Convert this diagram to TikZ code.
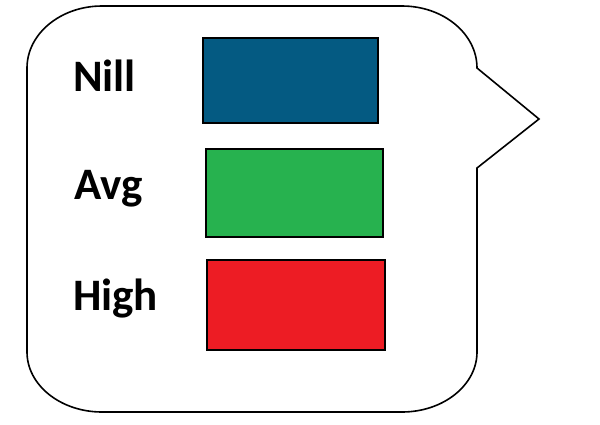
\documentclass[tikz,border=0pt]{standalone}
\usepackage{fontspec}
\setmainfont{Carlito}
\definecolor{nillblue}{RGB}{4,90,130}
\definecolor{avggreen}{RGB}{39,178,79}
\definecolor{highred}{RGB}{237,28,36}
\tikzset{
  swatch/.style={draw=black, line width=2pt, rectangle, inner sep=0pt},
  lbl/.style={anchor=base west, inner sep=0pt, font=\fontsize{45}{54}\selectfont\bfseries},
  bubble/.style={draw=black, line width=1.6pt, line join=miter}
}
\begin{document}
\begin{tikzpicture}[x=1pt,y=-1pt]
\useasboundingbox (0,0) rectangle (600,424);
\draw[bubble] (102,6) -- (402,6)
  .. controls (443.4,6) and (477,33.8) .. (477,68)
  -- (539,119) -- (477,168) -- (477,352)
  .. controls (477,385.1) and (443.4,412) .. (402,412)
  -- (102,412)
  .. controls (60.6,412) and (27,385.1) .. (27,352)
  -- (27,68)
  .. controls (27,33.8) and (60.6,6) .. (102,6) -- cycle;
\node[swatch, fill=nillblue, minimum width=175pt, minimum height=85pt] (nillbox) at (290.3,80.8) {};
\node[swatch, fill=avggreen, minimum width=177pt, minimum height=87.7pt] (avgbox) at (294.5,192.9) {};
\node[swatch, fill=highred, minimum width=178pt, minimum height=90pt] (highbox) at (295.7,304.7) {};
\node[lbl] (nill) at (73,91.5) {Nill};
\node[lbl] (avg) at (74,199.3) {Avg};
\node[lbl] (high) at (73,310) {High};
\end{tikzpicture}
\end{document}
